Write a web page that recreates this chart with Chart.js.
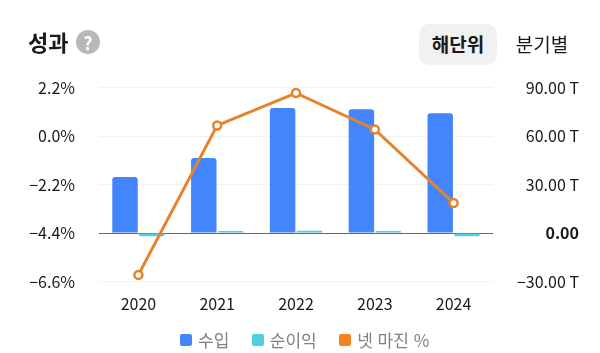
<!DOCTYPE html>
<html lang="ko">
<head>
<meta charset="utf-8">
<script src="https://cdn.jsdelivr.net/npm/chart.js@4"></script>
<style>
  html, body { margin: 0; padding: 0; background: #fff; }
  body { width: 600px; height: 353px; overflow: hidden; position: relative; font-family: "Noto Sans CJK KR", "Noto Sans", sans-serif; color: #1a1a1a; }
  #chart { position: absolute; left: 0; top: 0; }
  .title { position: absolute; left: 28px; top: 26px; font-size: 22px; line-height: 30px; font-weight: 700; }
  .help { position: absolute; left: 76px; top: 30px; width: 24px; height: 24px; border-radius: 50%; background: #b8b8b8; color: #fff; font-size: 18px; line-height: 24px; font-weight: 700; text-align: center; }
  .tab { position: absolute; top: 24px; height: 41px; line-height: 40px; font-size: 19px; text-align: center; }
  .tab.on { left: 419px; width: 78px; background: #f1f1f1; border-radius: 10px; font-weight: 700; }
  .tab.off { left: 507px; width: 70px; }
  #legend { position: absolute; left: 180px; top: 328px; display: flex; font-size: 17px; line-height: 24px; color: #808080; white-space: nowrap; }
  #legend .item { display: flex; align-items: center; margin-right: 22.5px; }
  #legend .box { width: 12px; height: 12px; border-radius: 2px; margin-right: 6px; }
</style>
</head>
<body>
<canvas id="chart" width="600" height="353"></canvas>
<div class="title">성과</div>
<div class="help">?</div>
<div class="tab on">해단위</div>
<div class="tab off">분기별</div>
<div id="legend"></div>
<script>
// --- DATI ---
const years = ["2020", "2021", "2022", "2023", "2024"];
const revenue = [34.6, 46.4, 77.3, 76.6, 74.0];
const netIncome = [-2.0, 1.2, 1.4, 1.2, -2.0];
const netMargin = [-6.3, 0.48, 1.95, 0.3, -3.04];

const seriesNames = ["수입", "순이익", "넷 마진 %"];
const seriesColors = ["#4285fd", "#4dd0e1", "#f5821f"];

const leftTicks = [-6.6, -4.4, -2.2, 0, 2.2];
const rightTicks = [-30, 0, 30, 60, 90];

const tickFamily = "'Noto Sans CJK KR', 'Noto Sans', sans-serif";
const minus = v => String(v).replace("-", "\u2212");
const isZero = c => c.tick && c.tick.value === 0;

new Chart(document.getElementById("chart"), {
  type: "bar",
  data: {
    labels: years,
    datasets: [
      {
        type: "line",
        label: seriesNames[2],
        data: netMargin,
        yAxisID: "y",
        order: 0,
        borderColor: "#e8822a",
        borderWidth: 3,
        tension: 0,
        pointRadius: 4,
        pointBorderWidth: 2.5,
        pointBackgroundColor: "#fff",
        pointBorderColor: "#e8822a"
      },
      {
        label: seriesNames[0],
        data: revenue,
        yAxisID: "y1",
        order: 1,
        backgroundColor: seriesColors[0],
        borderRadius: 3,
        borderSkipped: "bottom",
        categoryPercentage: 0.68,
        barPercentage: 0.95
      },
      {
        label: seriesNames[1],
        data: netIncome,
        yAxisID: "y1",
        order: 1,
        backgroundColor: seriesColors[1],
        borderRadius: 2,
        categoryPercentage: 0.68,
        barPercentage: 0.95
      }
    ]
  },
  options: {
    responsive: false,
    animation: false,
    layout: { autoPadding: false, padding: { top: 87.5, right: 21 } },
    plugins: { legend: { display: false }, tooltip: { enabled: false } },
    scales: {
      x: {
        grid: { display: false },
        border: { display: false },
        ticks: { color: "#1a1a1a", font: { size: 16, family: tickFamily }, padding: 5, maxRotation: 0 },
        afterFit: s => { s.height = 71.5; }
      },
      y: {
        position: "left",
        min: leftTicks[0],
        max: leftTicks[leftTicks.length - 1],
        afterBuildTicks: s => { s.ticks = leftTicks.map(v => ({ value: v })); },
        grid: { display: false },
        border: { display: false },
        ticks: {
          color: "#1a1a1a",
          font: { size: 16, family: tickFamily },
          padding: 16,
          callback: v => minus(v.toFixed(1)) + "%"
        },
        afterFit: s => { s.width = 99; }
      },
      y1: {
        position: "right",
        min: rightTicks[0],
        max: rightTicks[rightTicks.length - 1],
        afterBuildTicks: s => { s.ticks = rightTicks.map(v => ({ value: v })); },
        grid: {
          drawTicks: false,
          lineWidth: 1,
          color: c => isZero(c) ? "#666" : "#f2f2f2"
        },
        border: { display: false },
        ticks: {
          color: "#1a1a1a",
          crossAlign: "far",
          padding: 1,
          font: c => ({
            size: 16,
            family: tickFamily,
            weight: isZero(c) ? "700" : "400"
          }),
          callback: v => v === 0 ? "0.00" : minus(v.toFixed(2)) + " T"
        },
        afterFit: s => { s.width = 86; }
      }
    }
  }
});

// --- LEGENDA ---
const legendBox = document.getElementById("legend");
seriesNames.forEach((name, i) => {
  const item = document.createElement("div");
  item.className = "item";
  item.innerHTML = `<div class="box" style="background:${seriesColors[i]}"></div>${name}`;
  legendBox.appendChild(item);
});
</script>
</body>
</html>
